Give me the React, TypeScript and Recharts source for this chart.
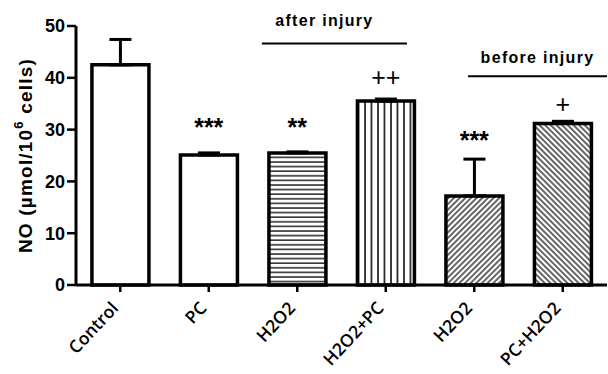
import { ComposedChart, Bar, Cell, ErrorBar, Scatter, XAxis, YAxis, ReferenceLine } from "recharts";

// values
const categories = ["Control", "PC", "H2O2", "H2O2+PC", "H2O2", "PC+H2O2"];
const means = [42.5, 25.1, 25.5, 35.5, 17.2, 31.2];
const upperErr = [4.9, 0.4, 0.2, 0.4, 7.1, 0.4];
const sigMarks = ["", "***", "**", "++", "***", "+"];
const sigAt = [null, 28.8, 28.8, 38.5, 26.3, 33.3];
const yTicks = [0, 10, 20, 30, 40, 50];

// group brackets (in category units / y units)
const groupLabels = ["after injury", "before injury"];
const groupFrom = [2.1, 4.43];
const groupTo = [3.74, 6];
const groupLevel = [46.6, 40.3];

const fills = ["#fff", "#fff", "url(#hlines)", "url(#vlines)", "url(#diagUp)", "url(#diagDown)"];
const groupDx = [-10, 0];
const groupOffset = [18, 13];

const data = categories.map((c, i) => ({
  key: `c${i}`,
  pos: i + 0.5,
  name: c,
  value: means[i],
  err: [0, upperErr[i]],
  sig: sigMarks[i],
  sigAt: sigAt[i],
}));

const FONT = "'Liberation Sans', Arial, sans-serif";

const XTick = (props: any) => {
  const { x, y, payload } = props;
  return (
    <g transform={`translate(${x - 1},${y + 15}) rotate(-47)`}>
      <text x={0} y={0} textAnchor="end" fill="#000" fontSize={17.5} fontWeight={600} fontFamily="'Open Sans', sans-serif">
        {categories[payload.index]}
      </text>
    </g>
  );
};

const YLabel = (props: any) => {
  const vb = props.viewBox;
  const cx = vb.x + 25;
  const cy = vb.y + vb.height / 2;
  return (
    <text
      x={cx}
      y={cy}
      transform={`rotate(-90, ${cx}, ${cy})`}
      textAnchor="middle"
      dominantBaseline="central"
      fontSize={19}
      fontWeight={700}
      letterSpacing={1.2}
      fontFamily={FONT}
      fill="#000"
    >
      NO (µmol/10<tspan dy={-7} fontSize={13}>6</tspan>
      <tspan dy={7}> cells)</tspan>
    </text>
  );
};

const SigMark = (props: any) => {
  const { cx, cy, payload } = props;
  if (!payload || !payload.sig || cy == null || isNaN(cy)) return <g />;
  const isPlus = payload.sig.includes("+");
  return (
    <text x={cx} y={cy} textAnchor="middle" fontSize={25} fontWeight={isPlus ? 400 : 700} fontFamily={FONT} fill="#000">
      {payload.sig}
    </text>
  );
};

const groupLabel = (i: number) => (props: any) => {
  const vb = props.viewBox;
  return (
    <text
      x={vb.x + vb.width / 2 + groupDx[i]}
      y={vb.y - groupOffset[i]}
      textAnchor="middle"
      fontSize={16}
      fontWeight={700}
      letterSpacing={1.3}
      fontFamily={FONT}
      fill="#000"
    >
      {groupLabels[i]}
    </text>
  );
};

export default function App() {
  return (
    <div style={{ position: "absolute", left: 0, top: 0, background: "#fff" }}>
      <ComposedChart width={608} height={374} data={data} margin={{ top: 26, right: 1, bottom: 0, left: 0 }} barCategoryGap="18%">
        <defs>
          <pattern id="hlines" patternUnits="userSpaceOnUse" width={8} height={4.6}>
            <rect width={8} height={4.6} fill="#fff" />
            <line x1={0} y1={1} x2={8} y2={1} stroke="#000" strokeWidth={1.3} />
          </pattern>
          <pattern id="vlines" patternUnits="userSpaceOnUse" width={6.5} height={8}>
            <rect width={6.5} height={8} fill="#fff" />
            <line x1={1} y1={0} x2={1} y2={8} stroke="#000" strokeWidth={1.5} />
          </pattern>
          <pattern id="diagUp" patternUnits="userSpaceOnUse" width={4} height={8} patternTransform="rotate(45)">
            <rect width={4} height={8} fill="#fff" />
            <line x1={1} y1={0} x2={1} y2={8} stroke="#000" strokeWidth={1.2} />
          </pattern>
          <pattern id="diagDown" patternUnits="userSpaceOnUse" width={4} height={8} patternTransform="rotate(-45)">
            <rect width={4} height={8} fill="#fff" />
            <line x1={1} y1={0} x2={1} y2={8} stroke="#000" strokeWidth={1.2} />
          </pattern>
        </defs>
        <XAxis
          dataKey="key"
          height={89}
          tick={<XTick />}
          tickSize={7}
          interval={0}
          axisLine={{ stroke: "#000", strokeWidth: 3 }}
          tickLine={{ stroke: "#000", strokeWidth: 2.5 }}
        />
        <XAxis xAxisId="num" dataKey="pos" type="number" domain={[0, 6]} allowDataOverflow hide />
        <YAxis
          width={76}
          domain={[0, 50]}
          ticks={yTicks}
          tickSize={9}
          tickMargin={2}
          tick={{ fill: "#000", fontSize: 18, fontWeight: 700, fontFamily: FONT }}
          axisLine={{ stroke: "#000", strokeWidth: 3 }}
          tickLine={{ stroke: "#000", strokeWidth: 2.5 }}
          label={YLabel}
        />
        <Bar dataKey="value" stroke="#000" strokeWidth={3.5} isAnimationActive={false}>
          {data.map((d, i) => (
            <Cell key={d.key} fill={fills[i]} />
          ))}
          <ErrorBar dataKey="err" width={11} strokeWidth={3} stroke="#000" direction="y" />
        </Bar>
        <Scatter dataKey="sigAt" shape={<SigMark />} isAnimationActive={false} />
        {groupLabels.map((g, i) => (
          <ReferenceLine
            key={g}
            xAxisId="num"
            segment={[
              { x: groupFrom[i], y: groupLevel[i] },
              { x: groupTo[i], y: groupLevel[i] },
            ]}
            stroke="#000"
            strokeWidth={2}
            ifOverflow="visible"
            label={groupLabel(i)}
          />
        ))}
      </ComposedChart>
    </div>
  );
}
